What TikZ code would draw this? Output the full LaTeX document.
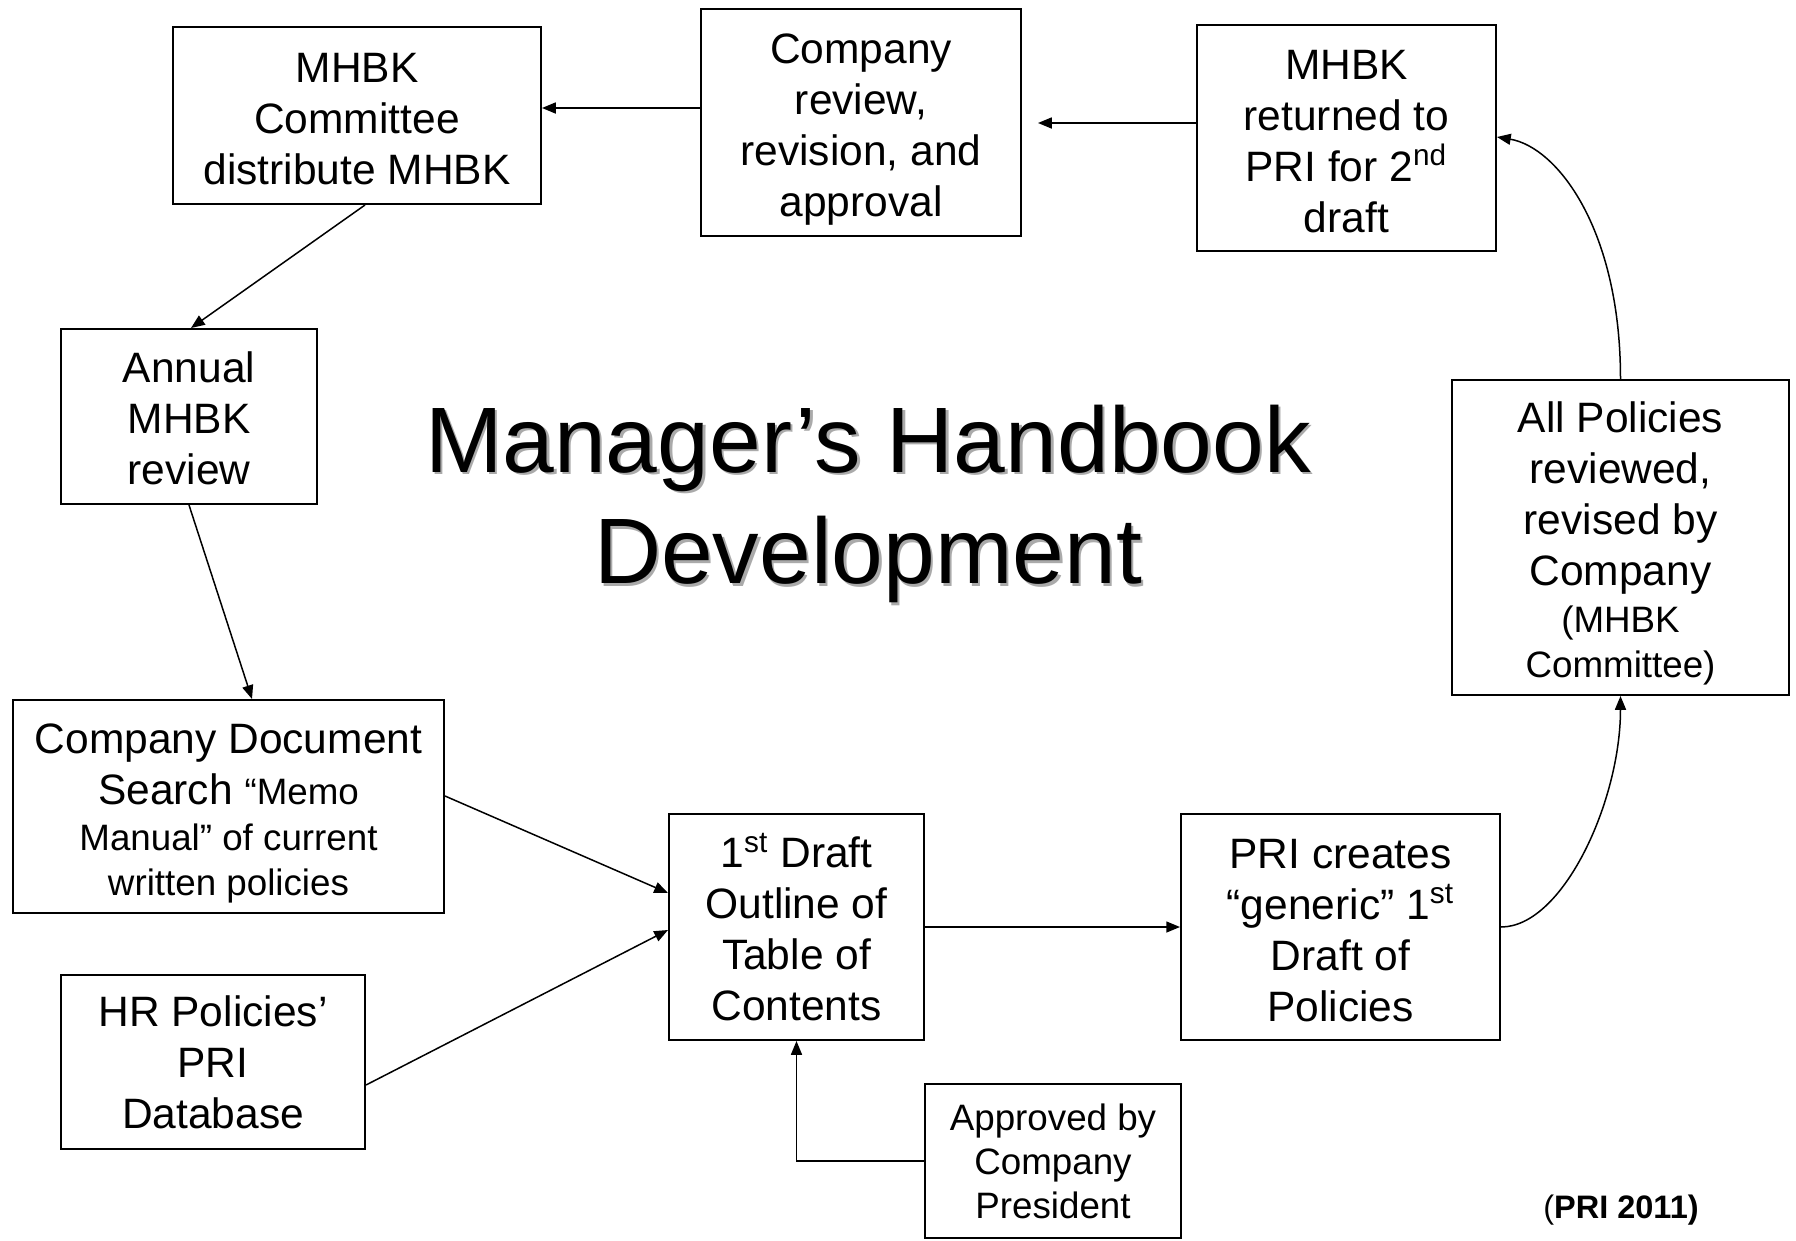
\documentclass[tikz,border=0pt]{standalone}
\usepackage{fontspec}
\setmainfont{Liberation Sans}
\usetikzlibrary{arrows.meta,calc}
\newcommand{\smtxt}{\fontsize{14.7}{17.6}\selectfont}
\newcommand{\lift}[1]{\rule{0pt}{#1}}
\begin{document}
\begin{tikzpicture}[x=0.4pt,y=-0.4pt,
  box/.style={draw, line width=0.8pt, inner sep=0pt, align=center,
    font=\fontsize{17}{20.4}\selectfont},
  arr/.style={draw, line width=0.6pt, -{Triangle[length=5.5pt,width=4.4pt]}},
  titlefont/.style={align=center, inner sep=0pt, font=\fontsize{37.2}{44.5}\selectfont}]
\useasboundingbox (0,0) rectangle (1796,1241);
\fill[white] (0,0) rectangle (1796,1241);

% title with shadow
\node[titlefont, text={rgb,255:red,170;green,170;blue,170}] (titlesh) at (870.5,506.5) {Manager’s Handbook\\Development};
\node[titlefont] (title) at (868,504) {Manager’s Handbook\\Development};

% boxes
\node[box, minimum width=147.2pt, minimum height=70.8pt] (comm) at (357,115.5) {\lift{14.3pt}MHBK\\Committee\\distribute MHBK};
\node[box, minimum width=128pt, minimum height=90.8pt] (rev) at (861,122.5) {\lift{17.2pt}Company\\review,\\revision, and\\approval};
\node[box, minimum width=119.6pt, minimum height=90.4pt] (ret) at (1346.5,138) {\lift{14.3pt}MHBK\\returned to\\PRI for 2\textsuperscript{nd}\\draft};
\node[box, minimum width=102.4pt, minimum height=70pt] (ann) at (189,416.5) {\lift{13.5pt}Annual\\MHBK\\review};
\node[box, minimum width=134.8pt, minimum height=126pt] (allp) at (1620.5,537.5) {\lift{17pt}All Policies\\reviewed,\\revised by\\Company\\[-1.6pt]{\smtxt (MHBK}\\[-2.6pt]{\smtxt Committee)}};
\node[box, minimum width=172.4pt, minimum height=85.2pt, font=\fontsize{17}{18.3}\selectfont] (cds) at (228.5,806.5) {\lift{17.2pt}Company Document\\[2.3pt]Search {\smtxt “Memo}\\{\smtxt Manual” of current}\\[-0.4pt]{\smtxt written policies}};
\node[box, minimum width=121.6pt, minimum height=69.6pt] (hr) at (213,1062) {HR Policies’\\PRI\\Database};
\node[box, minimum width=102pt, minimum height=90.4pt] (draft) at (796.5,927) {1\textsuperscript{st} Draft\\Outline of\\Table of\\Contents};
\node[box, minimum width=127.6pt, minimum height=90.4pt] (pri) at (1340.5,927) {\lift{14.3pt}PRI creates\\“generic” 1\textsuperscript{st}\\Draft of\\Policies};
\node[box, minimum width=102.4pt, minimum height=61.6pt, font=\smtxt] (appr) at (1053,1161) {Approved by\\Company\\President};

\node[inner sep=0pt, font=\fontsize{13}{15}\selectfont] (src) at (1621,1210) {(\textbf{PRI 2011)}};

% helper coordinates
\coordinate (y1) at (0,108);
\coordinate (y2) at (0,123);

% connectors
\draw[arr] (rev.west |- y1) -- (comm.east |- y1);
\draw[arr, shorten >=6.4pt] (ret.west |- y2) -- (rev.east |- y2);
\draw[arr] ([xshift=3.2pt]comm.south) -- ([xshift=0.8pt]ann.north);
\draw[arr] (ann.south) -- ([xshift=9.4pt]cds.north);
\draw[arr] ([yshift=4.2pt]cds.east) -- ([yshift=13.6pt]draft.west);
\draw[arr] ([yshift=-9.2pt]hr.east) -- ([yshift=-1.2pt]draft.west);
\draw[arr] (draft.east) -- (pri.west);
\draw[arr] (appr.west) -| (draft.south);
\draw[arr] (pri.east) .. controls +(62,0) and +(0,105) .. (allp.south);
\draw[arr] (allp.north) .. controls +(0,-150) and +(60,10) .. ([yshift=0.4pt]ret.east);
\end{tikzpicture}
\end{document}
